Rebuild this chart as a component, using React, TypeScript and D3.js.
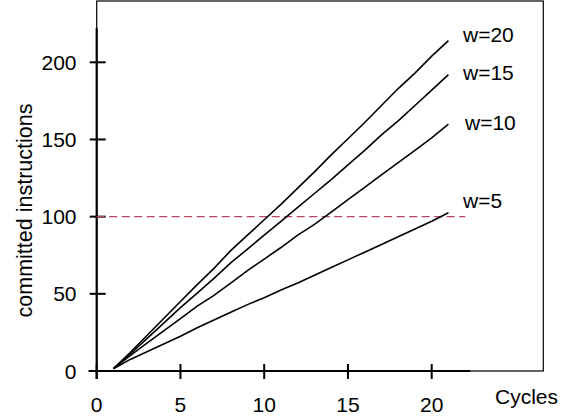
import React from "react";
import * as d3 from "d3";

const cycles = [1, 2, 3, 4, 5, 6, 7, 8, 9, 10, 11, 12, 13, 14, 15, 16, 17, 18, 19, 20, 21];
const w20 = [1.5, 12, 23, 34, 45, 56, 66.5, 78, 88, 98, 108, 118.5, 129, 140, 150.5, 161, 172, 183, 193, 204, 214];
const w15 = [1.5, 11, 21, 31, 41, 50.5, 60, 70, 79, 88, 97, 106, 115, 124, 133.5, 143, 153, 162, 172, 182, 192];
const w10 = [1.5, 10, 18, 26, 34, 42, 49, 57, 65, 72.5, 80, 88, 95, 103, 111, 119, 127, 135, 143, 151, 160];
const w5 = [1.5, 7.5, 12.5, 17.5, 22.5, 28, 33, 38, 43, 47.5, 52.5, 57, 62, 67, 72, 77, 82, 87, 92, 97, 102.5];
const seriesNames = ["w=20", "w=15", "w=10", "w=5"];
const seriesValues = [w20, w15, w10, w5];
const xTicks = [0, 5, 10, 15, 20];
const yTicks = [0, 50, 100, 150, 200];
const refValue = 100;

const W = 569;
const H = 419;
const FONT = "Arial, 'Liberation Sans', Helvetica, sans-serif";
const FS = 21;

export default function App() {
  const x = d3.scaleLinear().domain([0, 20]).range([96.7, 431.7]);
  const y = d3.scaleLinear().domain([0, 200]).range([371, 62.3]);
  const line = d3
    .line<number>()
    .x((_, i) => x(cycles[i]))
    .y((d) => y(d));

  const frameLeft = x(0);
  const frameRight = 543.3;
  const frameTop = 1;
  const frameBottom = y(0);

  const labelYs = [41.7, 80, 130, 208];
  const labelXs = [463, 463, 465, 463];

  return (
    <svg
      width={W}
      height={H}
      style={{ position: "absolute", left: 0, top: 0, background: "#fff" }}
      fontFamily={FONT}
    >
      <rect x={0} y={0} width={W} height={H} fill="#fff" />
      {/* frame */}
      <rect
        x={frameLeft}
        y={frameTop}
        width={frameRight - frameLeft}
        height={frameBottom - frameTop}
        fill="none"
        stroke="#000"
        strokeWidth={1.2}
      />
      {/* axes */}
      <line x1={88.5} x2={x(22.3)} y1={y(0)} y2={y(0)} stroke="#000" strokeWidth={2.2} />
      <line x1={x(0)} x2={x(0)} y1={y(222)} y2={379} stroke="#000" strokeWidth={2.2} />
      {yTicks.map((t) => (
        <g key={"y" + t}>
          <line x1={x(0) - 7} x2={x(0) + 9} y1={y(t)} y2={y(t)} stroke="#000" strokeWidth={2} />
          <text x={76.5} y={y(t)} dy="0.36em" textAnchor="end" fontSize={FS} fill="#000">
            {t}
          </text>
        </g>
      ))}
      {xTicks.map((t) => (
        <g key={"x" + t}>
          <line x1={x(t)} x2={x(t)} y1={y(0) - 7} y2={y(0) + 8} stroke="#000" strokeWidth={2} />
          <text x={x(t)} y={411.5} textAnchor="middle" fontSize={FS} fill="#000">
            {t}
          </text>
        </g>
      ))}
      {/* reference dashed line */}
      <line
        x1={x(0)}
        x2={x(22)}
        y1={y(refValue)}
        y2={y(refValue)}
        stroke="#b5475f"
        strokeWidth={1.2}
        strokeDasharray="8,4.5"
      />
      {/* series */}
      {seriesValues.map((vals, i) => (
        <path key={seriesNames[i]} d={line(vals) || ""} fill="none" stroke="#000" strokeWidth={1.6} />
      ))}
      {seriesNames.map((n, i) => (
        <text key={"l" + n} x={labelXs[i]} y={labelYs[i]} fontSize={FS} fill="#000">
          {n}
        </text>
      ))}
      <text x={495} y={403.5} fontSize={FS} fill="#000">
        Cycles
      </text>
      <text
        transform={`translate(32, 210.5) rotate(-90)`}
        textAnchor="middle"
        fontSize={21.5}
        fill="#000"
      >
        committed instructions
      </text>
    </svg>
  );
}
